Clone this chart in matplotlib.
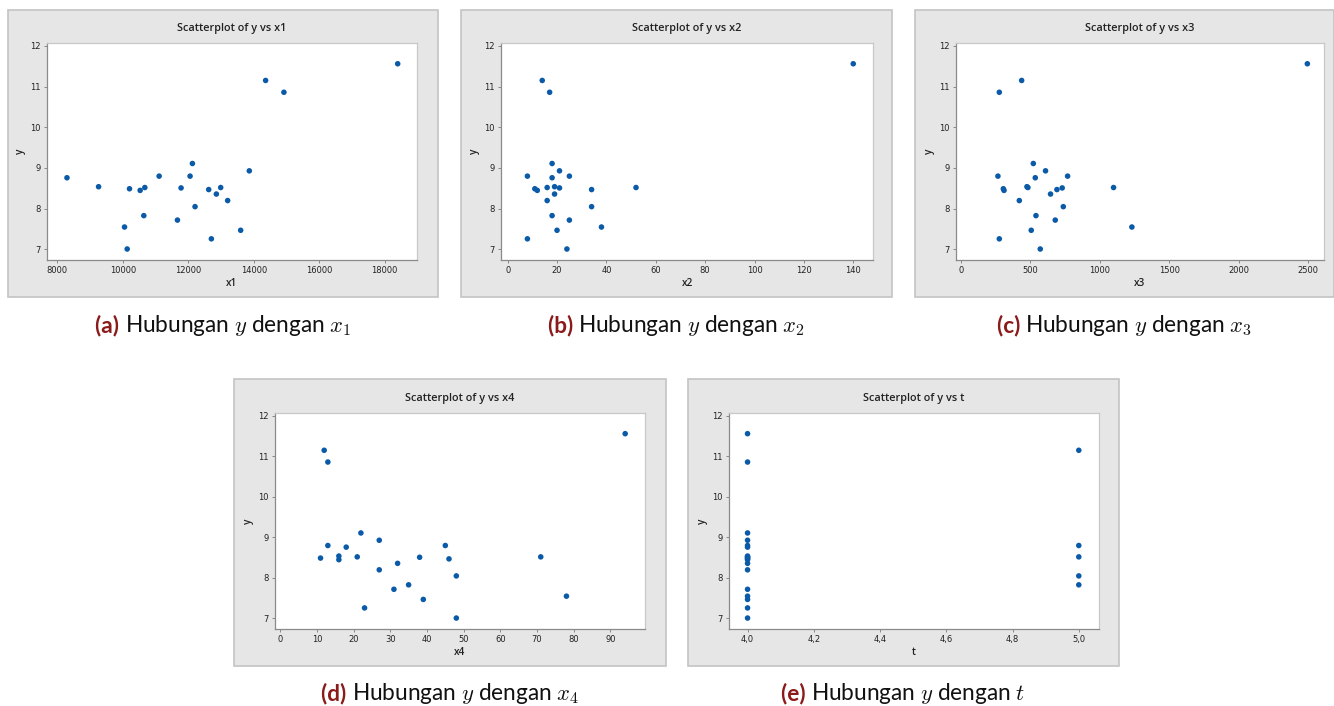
import matplotlib
matplotlib.use("Agg")
import matplotlib.pyplot as plt
from matplotlib.patches import Rectangle

y = [11.56, 11.15, 10.86, 9.11, 8.93, 8.80, 8.80, 8.76, 8.54, 8.52, 8.52, 8.51,
     8.49, 8.47, 8.45, 8.36, 8.20, 8.05, 7.83, 7.72, 7.55, 7.47, 7.26, 7.01]
x1 = [18396, 14362, 14921, 12126, 13864, 11110, 12055, 8295, 9260, 10673, 12990, 11780,
      10205, 12624, 10530, 12858, 13203, 12207, 10642, 11669, 10053, 13600, 12705, 10134]
x2 = [140, 14, 17, 18, 21, 8, 25, 18, 19, 16, 52, 21,
      11, 34, 12, 19, 16, 34, 18, 25, 38, 20, 8, 24]
x3 = [2495, 437, 276, 521, 609, 266, 768, 535, 475, 482, 1099, 729,
      305, 691, 310, 645, 420, 737, 540, 679, 1231, 506, 276, 571]
x4 = [94, 12, 13, 22, 27, 13, 45, 18, 16, 21, 71, 38,
      11, 46, 16, 32, 27, 48, 35, 31, 78, 39, 23, 48]
t = [4, 5, 4, 4, 4, 4, 5, 4, 4, 4, 5, 4,
     4, 4, 4, 4, 4, 5, 5, 4, 4, 4, 4, 4]

W, H = 1334, 706
BLUE = "#0a5aa8"
BG = "#e6e6e6"

# (name, xdata, box px, axes px, xlim, xticks, xticklabels, caption, label)
panels = [
    ("x1", x1, (8, 10, 438, 297), (47, 43, 417, 260), (7685, 18986),
     [8000, 10000, 12000, 14000, 16000, 18000], None, r"Hubungan $y$ dengan $x_1$", "(a)"),
    ("x2", x2, (461, 10, 892, 297), (501, 43, 873, 260), (-2.7, 148),
     [0, 20, 40, 60, 80, 100, 120, 140], None, r"Hubungan $y$ dengan $x_2$", "(b)"),
    ("x3", x3, (915, 10, 1334, 297), (956, 43, 1324, 260), (-36, 2615),
     [0, 500, 1000, 1500, 2000, 2500], None, r"Hubungan $y$ dengan $x_3$", "(c)"),
    ("x4", x4, (234, 379, 666, 666), (275, 413, 645, 629), (-1.4, 99.4),
     [0, 10, 20, 30, 40, 50, 60, 70, 80, 90], None, r"Hubungan $y$ dengan $x_4$", "(d)"),
    ("t", t, (688, 379, 1119, 666), (729, 413, 1099, 629), (3.944, 5.061),
     [4.0, 4.2, 4.4, 4.6, 4.8, 5.0], ["4,0", "4,2", "4,4", "4,6", "4,8", "5,0"],
     r"Hubungan $y$ dengan $t$", "(e)"),
]

plt.rcParams["mathtext.fontset"] = "cm"
fig = plt.figure(figsize=(W / 100, H / 100), dpi=100)
fig.patch.set_facecolor("white")

caps = []
for name, xs, box, axp, xlim, xt, xtl, cap, lab in panels:
    bx0, by0, bx1, by1 = box
    fig.patches.append(Rectangle((bx0 / W, 1 - by1 / H), (bx1 - bx0) / W, (by1 - by0) / H,
                                 transform=fig.transFigure, facecolor=BG,
                                 edgecolor="#c4c4c4", lw=1.2, zorder=-5))
    ax0, ay0, ax1, ay1 = axp
    ax = fig.add_axes([ax0 / W, 1 - ay1 / H, (ax1 - ax0) / W, (ay1 - ay0) / H])
    ax.set_facecolor("white")
    ax.scatter(xs, y, s=16, color=BLUE, edgecolors="none", zorder=3)
    ax.set_xlim(*xlim)
    ax.set_ylim(6.74, 12.07)
    ax.set_xticks(xt)
    if xtl:
        ax.set_xticklabels(xtl)
    ax.set_yticks([7, 8, 9, 10, 11, 12])
    ax.tick_params(labelsize=6, length=2.5, width=0.6, color="#7a7a7a", pad=2,
                   labelcolor="#222222")
    for s in ["left", "bottom"]:
        ax.spines[s].set_color("#8a8a8a")
        ax.spines[s].set_linewidth(0.9)
    for s in ["top", "right"]:
        ax.spines[s].set_color("#c8c8c8")
        ax.spines[s].set_linewidth(0.9)
    ax.set_xlabel(name, fontsize=7.2, labelpad=2, color="#222222",
                  fontfamily="Open Sans", fontweight="semibold")
    ax.set_ylabel("y", fontsize=7.2, labelpad=3, color="#222222",
                  fontfamily="Open Sans", fontweight="semibold")
    ax.set_title(f"Scatterplot of y vs {name}", fontsize=7.8, pad=9, color="#222222",
                 fontfamily="Open Sans", fontweight="semibold")

    cx = (bx0 + bx1) / 2 / W
    cy = 1 - (by1 + 28) / H
    a = fig.text(cx, cy, lab + " ", color="#8b1a1a", fontsize=16.3, fontweight="bold",
                 fontfamily="Lato", ha="right", va="center")
    b = fig.text(cx, cy, cap, color="#111111", fontsize=16.3, fontfamily="Lato",
                 ha="left", va="center")
    caps.append((a, b))

fig.canvas.draw()
# recentre each caption pair on its panel
r = fig.canvas.get_renderer()
for a, b in caps:
    ea = a.get_window_extent(r)
    eb = b.get_window_extent(r)
    total = ea.width + eb.width
    cx = a.get_position()[0] * W
    left = cx - total / 2
    a.set_position(((left + ea.width) / W, a.get_position()[1]))
    b.set_position(((left + ea.width) / W, b.get_position()[1]))

fig.savefig("out.png", dpi=100, facecolor="white")
